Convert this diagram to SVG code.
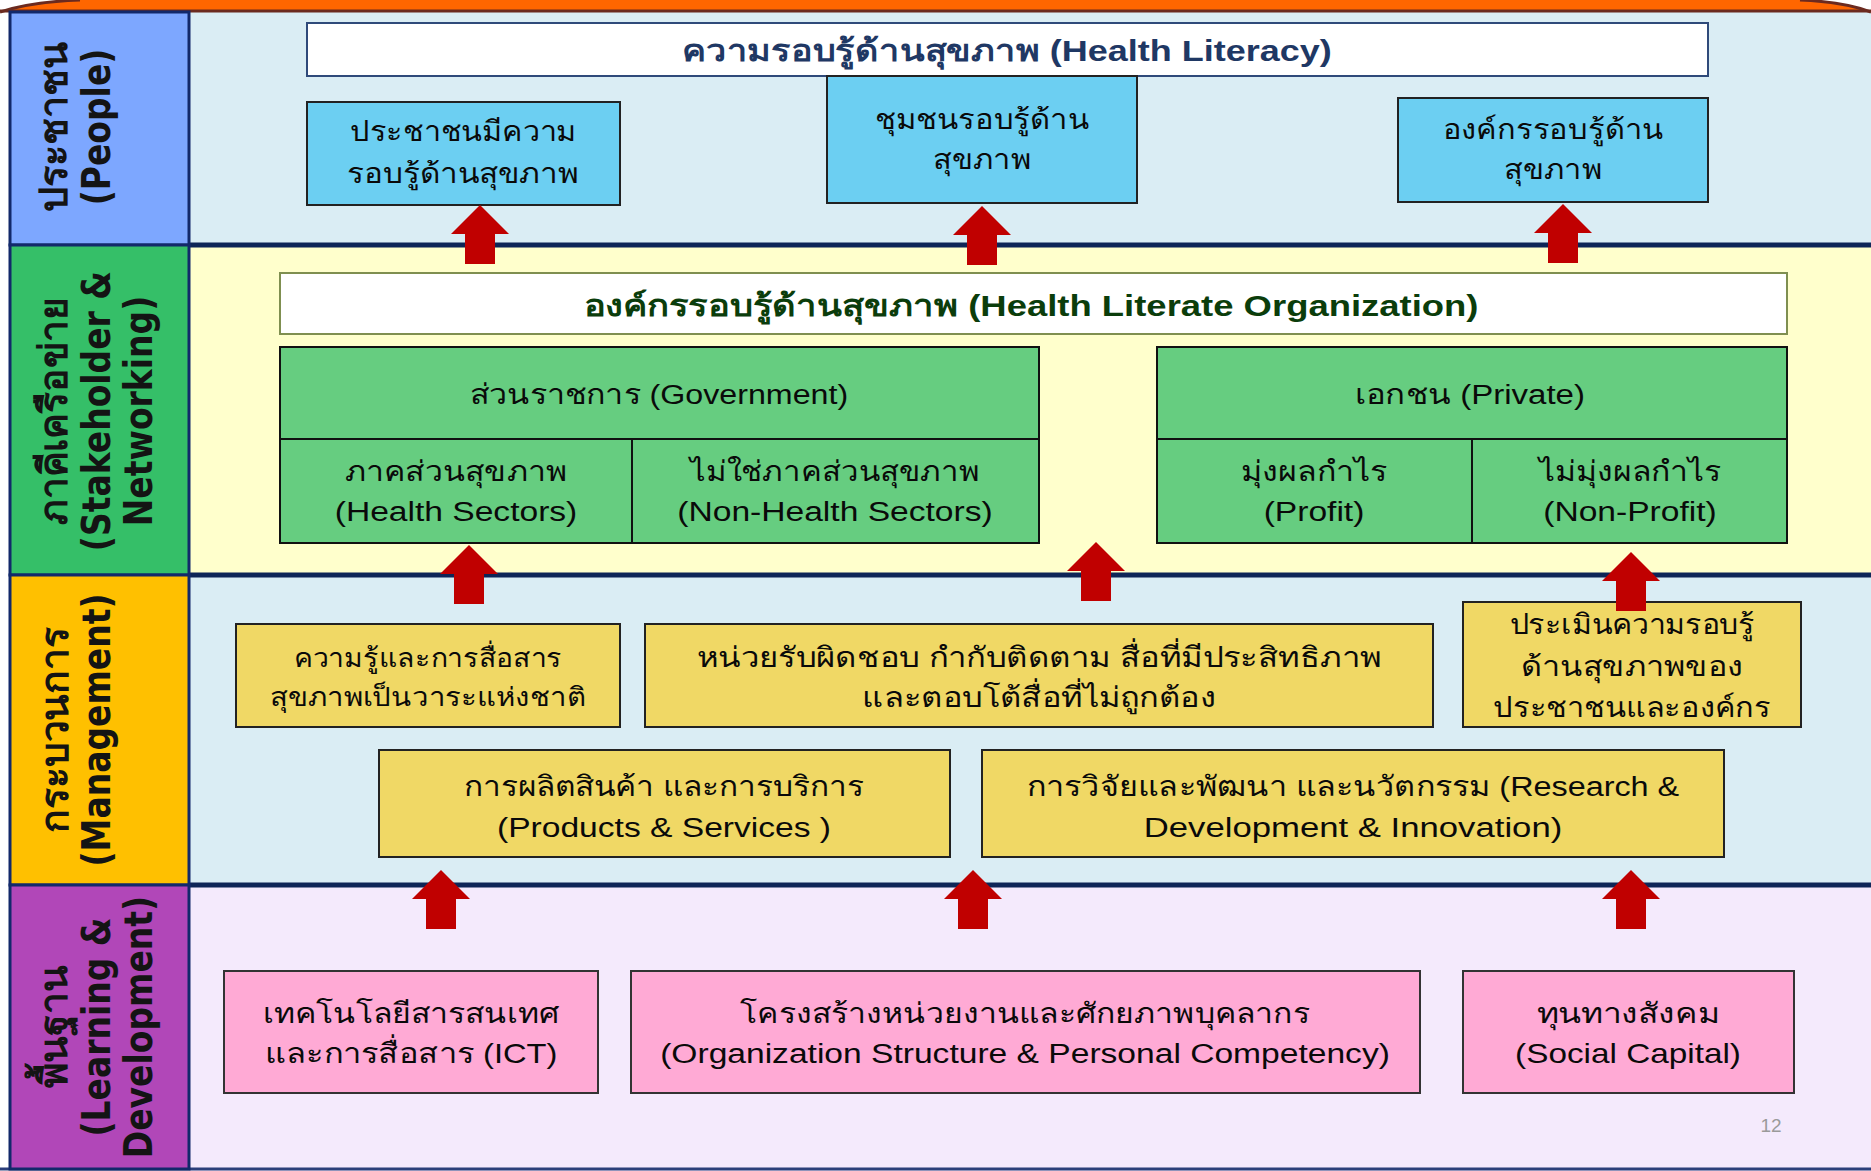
<svg xmlns="http://www.w3.org/2000/svg" width="1871" height="1171" viewBox="0 0 1871 1171">
<style>
.lbl{font-family:"DejaVu Sans",sans-serif;font-weight:bold;font-size:33px;fill:#141414;text-anchor:middle}
.t{font-family:"Liberation Sans",sans-serif;font-size:28px;fill:#0a0a0a;text-anchor:middle}
.s{font-size:26px}
.h{font-family:"Liberation Sans",sans-serif;font-size:30px;font-weight:bold;text-anchor:middle}
.sep{stroke:#0E2557;stroke-width:5}
.blue{fill:#6CCFF2;stroke:#222;stroke-width:2}
.green{fill:#66CD80;stroke:#111;stroke-width:2}
.yel{fill:#F0D865;stroke:#222;stroke-width:2}
.pink{fill:#FFAAD5;stroke:#333;stroke-width:2}
.arrow{fill:#C00000}
</style>
<defs>
<polygon id="arr" points="0,0 29,29 15,29 15,59 -15,59 -15,29 -29,29"/>
</defs>
<rect width="1871" height="1171" fill="#ffffff"/>
<g id="bands">
<rect x="189" y="10" width="1682" height="235" fill="#DAEDF4"/>
<rect x="189" y="245" width="1682" height="330" fill="#FFFFCC"/>
<rect x="189" y="575" width="1682" height="310" fill="#DAEDF4"/>
<rect x="189" y="885" width="1682" height="286" fill="#F4EAFC"/>
<path d="M0 12 Q 30 2 80 0 L 1800 0 Q 1845 2 1871 12 Z" fill="#FF6600"/>
<path d="M0 12 Q 30 2 80 0 M 1800 0 Q 1845 2 1871 12" fill="none" stroke="#6B2A1F" stroke-width="3"/>
<line x1="0" y1="11" x2="1871" y2="11" stroke="#6B2A1F" stroke-width="3"/>
<line class="sep" x1="189" y1="245" x2="1871" y2="245"/>
<line class="sep" x1="189" y1="575" x2="1871" y2="575"/>
<line class="sep" x1="189" y1="885" x2="1871" y2="885"/>
<line x1="0" y1="1169" x2="1871" y2="1169" stroke="#2B3F7A" stroke-width="3"/>
</g>
<g id="lane-people">
<rect x="10" y="12" width="179" height="233" fill="#7DA7FF" stroke="#12296A" stroke-width="3"/>
<text class="lbl" transform="translate(0,127) rotate(-90) scale(1.2,1.2)" y="55.8">ประชาชน</text>
<text class="lbl" transform="translate(0,127) rotate(-90) scale(1,1.2)"><tspan x="0" y="91.7">(People)</tspan></text>
</g>
<g id="lane-stakeholder">
<rect x="10" y="245" width="179" height="330" fill="#35BF68" stroke="#12296A" stroke-width="3"/>
<text class="lbl" transform="translate(0,411) rotate(-90) scale(1.18,1.2)" y="55.8">ภาคีเครือข่าย</text>
<text class="lbl" transform="translate(0,411) rotate(-90) scale(1,1.2)"><tspan x="0" y="91.7">(Stakeholder &amp;</tspan><tspan x="0" y="126.7">Networking)</tspan></text>
</g>
<g id="lane-management">
<rect x="10" y="575" width="179" height="310" fill="#FFC000" stroke="#12296A" stroke-width="3"/>
<text class="lbl" transform="translate(0,730) rotate(-90) scale(1.18,1.2)" y="56.7">กระบวนการ</text>
<text class="lbl" transform="translate(0,730) rotate(-90) scale(1,1.2)"><tspan x="0" y="91.7">(Management)</tspan></text>
</g>
<g id="lane-learning">
<rect x="10" y="885" width="179" height="284" fill="#B147B8" stroke="#12296A" stroke-width="3"/>
<text class="lbl" transform="translate(0,1027) rotate(-90) scale(1.18,1.2)" y="55.8">พื้นฐาน</text>
<text class="lbl" transform="translate(0,1027) rotate(-90) scale(1,1.2)"><tspan x="0" y="91.7">(Learning &amp;</tspan><tspan x="0" y="126.7">Development)</tspan></text>
</g>
<g id="health-literacy">
<rect x="307" y="23" width="1401" height="53" fill="#fff" stroke="#2F4A7A" stroke-width="2"/>
<text class="h" fill="#1F3864" transform="matrix(1.2 0 0 1 1007 0)" y="61">ความรอบรู้ด้านสุขภาพ  (Health Literacy)</text>
</g>
<g id="people-literacy">
<rect class="blue" x="307" y="102" width="313" height="103"/>
<text class="t" transform="matrix(1.09 0 0 1 463 0)" y="141">ประชาชนมีความ</text>
<text class="t" transform="matrix(1.125 0 0 1 463 0)" y="183">รอบรู้ด้านสุขภาพ</text>
</g>
<g id="community-literacy">
<rect class="blue" x="827" y="76" width="310" height="127"/>
<text class="t" transform="matrix(1.106 0 0 1 982 0)" y="129">ชุมชนรอบรู้ด้าน</text>
<text class="t" transform="matrix(1.1 0 0 1 982 0)" y="169">สุขภาพ</text>
</g>
<g id="org-literacy">
<rect class="blue" x="1398" y="98" width="310" height="104"/>
<text class="t" transform="matrix(1.1 0 0 1 1553 0)" y="139">องค์กรรอบรู้ด้าน</text>
<text class="t" transform="matrix(1.1 0 0 1 1553 0)" y="179">สุขภาพ</text>
</g>
<g id="hlo">
<rect x="280" y="273" width="1507" height="61" fill="#fff" stroke="#7F8F50" stroke-width="2"/>
<text class="h" fill="#0B3D0B" transform="matrix(1.215 0 0 1 1031 0)" y="316">องค์กรรอบรู้ด้านสุขภาพ  (Health Literate  Organization)</text>
</g>
<g id="government">
<rect class="green" x="280" y="347" width="759" height="196"/>
<line x1="280" y1="439" x2="1039" y2="439" stroke="#111" stroke-width="2"/>
<line x1="632" y1="439" x2="632" y2="543" stroke="#111" stroke-width="2"/>
<text class="t" transform="matrix(1.15 0 0 1 659 0)" y="404">ส่วนราชการ (Government)</text>
<text class="t" transform="matrix(1.144 0 0 1 456 0)" y="481">ภาคส่วนสุขภาพ</text>
<text class="t" transform="matrix(1.2 0 0 1 456 0)" y="521">(Health  Sectors)</text>
<text class="t" transform="matrix(1.113 0 0 1 835 0)" y="481">ไม่ใช่ภาคส่วนสุขภาพ</text>
<text class="t" transform="matrix(1.2 0 0 1 835 0)" y="521">(Non-Health  Sectors)</text>
</g>
<g id="private">
<rect class="green" x="1157" y="347" width="630" height="196"/>
<line x1="1157" y1="439" x2="1787" y2="439" stroke="#111" stroke-width="2"/>
<line x1="1472" y1="439" x2="1472" y2="543" stroke="#111" stroke-width="2"/>
<text class="t" transform="matrix(1.18 0 0 1 1470 0)" y="404">เอกชน (Private)</text>
<text class="t" transform="matrix(1.15 0 0 1 1314 0)" y="481">มุ่งผลกำไร</text>
<text class="t" transform="matrix(1.2 0 0 1 1314 0)" y="521">(Profit)</text>
<text class="t" transform="matrix(1.14 0 0 1 1630 0)" y="481">ไม่มุ่งผลกำไร</text>
<text class="t" transform="matrix(1.2 0 0 1 1630 0)" y="521">(Non-Profit)</text>
</g>
<g id="national-agenda">
<rect class="yel" x="236" y="624" width="384" height="103"/>
<text class="t s" transform="matrix(1.09 0 0 1 428 0)" y="667">ความรู้และการสื่อสาร</text>
<text class="t s" transform="matrix(1.13 0 0 1 428 0)" y="706">สุขภาพเป็นวาระแห่งชาติ</text>
</g>
<g id="media-unit">
<rect class="yel" x="645" y="624" width="788" height="103"/>
<text class="t" transform="matrix(1.175 0 0 1 1039 0)" y="667">หน่วยรับผิดชอบ  กำกับติดตาม  สื่อที่มีประสิทธิภาพ</text>
<text class="t" transform="matrix(1.169 0 0 1 1039 0)" y="707">และตอบโต้สื่อที่ไม่ถูกต้อง</text>
</g>
<g id="assessment">
<rect class="yel" x="1463" y="602" width="338" height="125"/>
<text class="t" transform="matrix(1.08 0 0 1 1632 0)" y="634">ประเมินความรอบรู้</text>
<text class="t" transform="matrix(1.156 0 0 1 1632 0)" y="676">ด้านสุขภาพของ</text>
<text class="t" transform="matrix(1.096 0 0 1 1632 0)" y="717">ประชาชนและองค์กร</text>
</g>
<g id="products">
<rect class="yel" x="379" y="750" width="571" height="107"/>
<text class="t" transform="matrix(1.13 0 0 1 664 0)" y="796">การผลิตสินค้า  และการบริการ</text>
<text class="t" transform="matrix(1.2 0 0 1 664 0)" y="837">(Products  &amp; Services  )</text>
</g>
<g id="research">
<rect class="yel" x="982" y="750" width="742" height="107"/>
<text class="t" transform="matrix(1.156 0 0 1 1353 0)" y="796">การวิจัยและพัฒนา  และนวัตกรรม (Research  &amp;</text>
<text class="t" transform="matrix(1.24 0 0 1 1353 0)" y="837">Development  &amp; Innovation)</text>
</g>
<g id="ict">
<rect class="pink" x="224" y="971" width="374" height="122"/>
<text class="t" transform="matrix(1.145 0 0 1 411 0)" y="1023">เทคโนโลยีสารสนเทศ</text>
<text class="t" transform="matrix(1.167 0 0 1 411 0)" y="1063">และการสื่อสาร (ICT)</text>
</g>
<g id="org-structure">
<rect class="pink" x="631" y="971" width="789" height="122"/>
<text class="t" transform="matrix(1.142 0 0 1 1025 0)" y="1023">โครงสร้างหน่วยงานและศักยภาพบุคลากร</text>
<text class="t" transform="matrix(1.2 0 0 1 1025 0)" y="1063">(Organization  Structure  &amp; Personal  Competency)</text>
</g>
<g id="social-capital">
<rect class="pink" x="1463" y="971" width="331" height="122"/>
<text class="t" transform="matrix(1.2 0 0 1 1628 0)" y="1023">ทุนทางสังคม</text>
<text class="t" transform="matrix(1.19 0 0 1 1628 0)" y="1063">(Social  Capital)</text>
</g>
<text x="1771" y="1132" font-family="Liberation Sans, sans-serif" font-size="19" fill="#9A9A9A" text-anchor="middle">12</text>
<g id="connectors" class="arrow">
<use href="#arr" x="480" y="205"/>
<use href="#arr" x="982" y="206"/>
<use href="#arr" x="1563" y="204"/>
<use href="#arr" x="469" y="545"/>
<use href="#arr" x="1096" y="542"/>
<use href="#arr" x="1631" y="552"/>
<use href="#arr" x="441" y="870"/>
<use href="#arr" x="973" y="870"/>
<use href="#arr" x="1631" y="870"/>
</g>
</svg>
